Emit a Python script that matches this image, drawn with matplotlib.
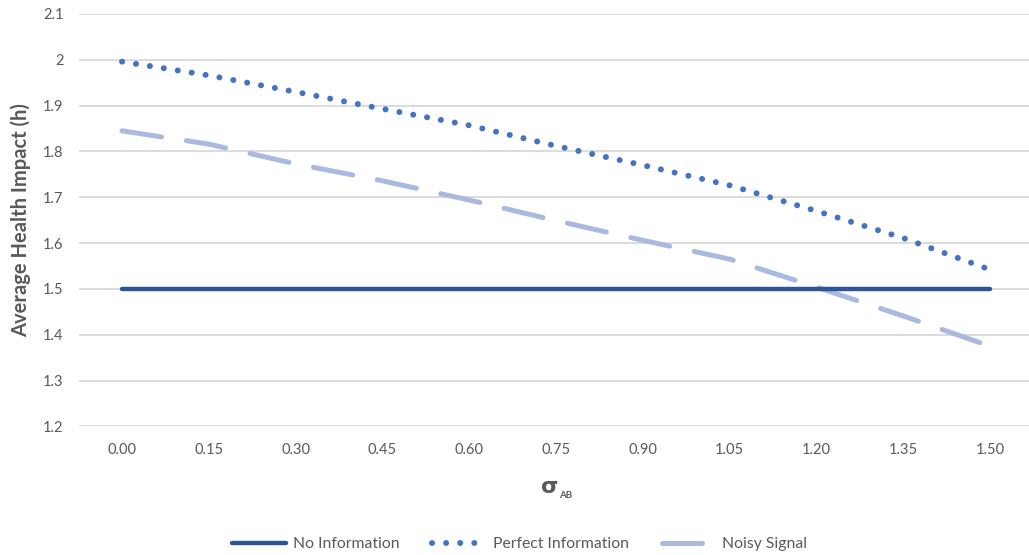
import matplotlib.pyplot as plt
import numpy as np

sigma_labels = ['0.00', '0.15', '0.30', '0.45', '0.60', '0.75',
                '0.90', '1.05', '1.20', '1.35', '1.50']
no_info = [1.5, 1.5, 1.5, 1.5, 1.5, 1.5, 1.5, 1.5, 1.5, 1.5, 1.5]
perfect_info = [1.996, 1.966, 1.930, 1.893, 1.857, 1.812,
                1.770, 1.726, 1.670, 1.611, 1.542]
noisy_signal = [1.845, 1.816, 1.773, 1.736, 1.694, 1.649,
                1.606, 1.565, 1.504, 1.441, 1.375]

plt.rcParams['font.family'] = ['Lato', 'DejaVu Sans']

fig = plt.figure(figsize=(10.29, 5.55), dpi=100)
ax = fig.add_axes([0.0764, 0.2317, 0.928, 0.7431])

x = np.arange(len(sigma_labels))

ax.plot(x, no_info, color='#2F5597', linewidth=3.2,
        solid_capstyle='round', label='No Information', zorder=3)
ax.plot(x, perfect_info, color='#4472C4', linewidth=4.3,
        linestyle=(0, (0.01, 2.35)), dash_capstyle='round',
        label='Perfect Information', zorder=3)
ax.plot(x, noisy_signal, color='#A9B9E0', linewidth=3.6,
        linestyle=(0, (8, 5)), dash_capstyle='round',
        label='Noisy Signal', zorder=2)

ax.set_xlim(-0.5, 10.5)
ax.set_ylim(1.2, 2.1)
ax.set_xticks(x)
ax.set_xticklabels(sigma_labels)
yt = [1.2, 1.3, 1.4, 1.5, 1.6, 1.7, 1.8, 1.9, 2.0, 2.1]
ax.set_yticks(yt)
ax.set_yticklabels(['1.2', '1.3', '1.4', '1.5', '1.6', '1.7', '1.8', '1.9', '2', '2.1'])

for s in ax.spines.values():
    s.set_visible(False)
ax.tick_params(length=0, labelsize=10.5, colors='#595959')
ax.tick_params(axis='x', pad=12)
ax.tick_params(axis='y', pad=11)
ax.grid(True, axis='y', color='#D9D9D9', linewidth=1.3)
ax.set_axisbelow(True)

ax.set_ylabel('Average Health Impact (h)', fontsize=14.5, fontweight='bold',
              color='#595959', labelpad=8)

# x label: bold sigma with a small AB subscript
fig.text(0.5345, 0.1117, 'σ', fontsize=16, fontweight='bold',
         family='DejaVu Sans', color='#595959', ha='center', va='baseline')
fig.text(0.5435, 0.1027, 'AB', fontsize=7, fontweight='bold',
         color='#595959', ha='left', va='baseline')

ax.legend(loc='upper center', bbox_to_anchor=(0.462, -0.235), ncol=3,
          frameon=False, fontsize=11.3, handlelength=3.4,
          columnspacing=2.1, handletextpad=0.45, labelcolor='#595959')

fig.savefig('out.png', dpi=100)
